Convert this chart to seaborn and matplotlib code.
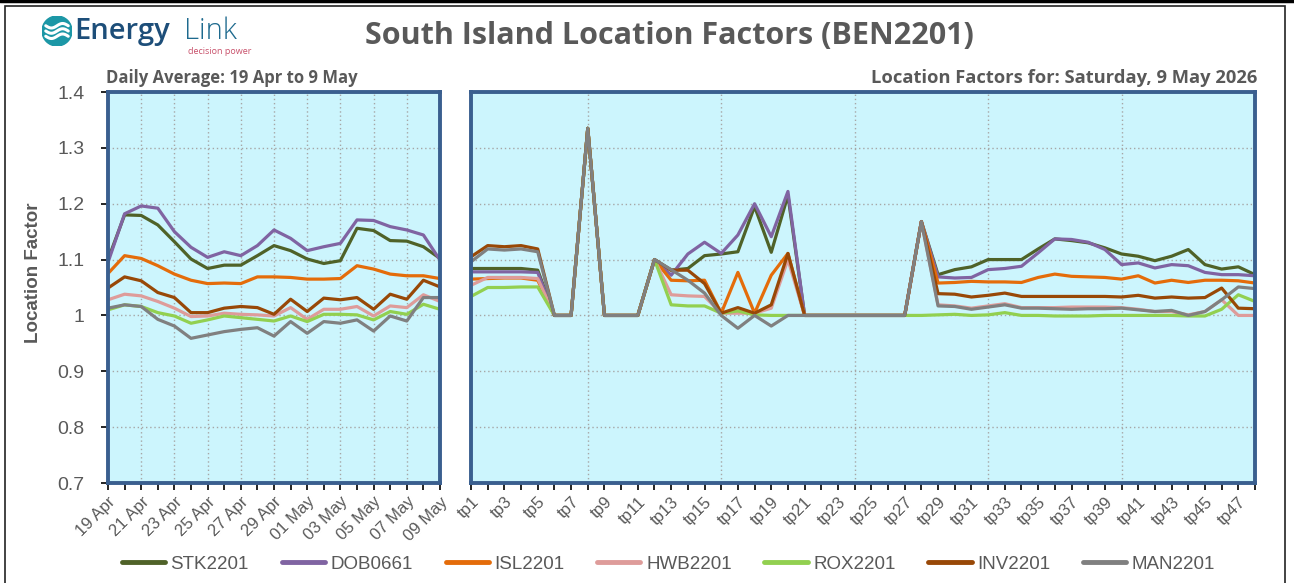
import numpy as np
import pandas as pd
import matplotlib
matplotlib.use("Agg")
import matplotlib.pyplot as plt
import seaborn as sns
from matplotlib.lines import Line2D
from matplotlib.patches import Circle, Rectangle

GREY = "#595959"
NODES = ["STK2201", "DOB0661", "ISL2201", "HWB2201", "ROX2201", "INV2201", "MAN2201"]
COLORS = {
    "STK2201": "#4F6228",
    "DOB0661": "#8064A2",
    "ISL2201": "#E46C0A",
    "HWB2201": "#DE9C9A",
    "ROX2201": "#92D050",
    "INV2201": "#984807",
    "MAN2201": "#808080",
}

DAYS = ["19 Apr", "20 Apr", "21 Apr", "22 Apr", "23 Apr", "24 Apr", "25 Apr",
        "26 Apr", "27 Apr", "28 Apr", "29 Apr", "30 Apr", "01 May", "02 May",
        "03 May", "04 May", "05 May", "06 May", "07 May", "08 May", "09 May"]
TPS = [f"tp{i}" for i in range(1, 49)]

# daily averages, 19 Apr .. 9 May
daily_stk = [1.100, 1.180, 1.179, 1.162, 1.132, 1.101, 1.084, 1.090, 1.090, 1.107, 1.125,
             1.116, 1.101, 1.093, 1.098, 1.156, 1.152, 1.134, 1.133, 1.123, 1.102]
daily_dob = [1.095, 1.182, 1.196, 1.192, 1.150, 1.122, 1.104, 1.114, 1.107, 1.125, 1.153,
             1.138, 1.116, 1.123, 1.129, 1.171, 1.170, 1.159, 1.153, 1.144, 1.099]
daily_isl = [1.075, 1.107, 1.102, 1.089, 1.074, 1.063, 1.057, 1.058, 1.057, 1.069, 1.069,
             1.068, 1.065, 1.065, 1.066, 1.089, 1.083, 1.074, 1.071, 1.071, 1.066]
daily_hwb = [1.028, 1.038, 1.035, 1.025, 1.013, 0.998, 0.999, 1.004, 1.002, 1.001, 0.999,
             1.014, 0.993, 1.011, 1.011, 1.016, 0.999, 1.017, 1.014, 1.037, 1.025]
daily_rox = [1.010, 1.019, 1.016, 1.005, 0.999, 0.986, 0.992, 0.999, 0.996, 0.993, 0.990,
             0.999, 0.989, 1.002, 1.002, 1.001, 0.992, 1.007, 1.002, 1.020, 1.011]
daily_inv = [1.049, 1.069, 1.062, 1.041, 1.032, 1.005, 1.005, 1.013, 1.016, 1.014, 1.002,
             1.029, 1.007, 1.031, 1.028, 1.032, 1.011, 1.038, 1.029, 1.063, 1.051]
daily_man = [1.013, 1.019, 1.016, 0.993, 0.981, 0.959, 0.965, 0.971, 0.975, 0.978, 0.963,
             0.989, 0.968, 0.989, 0.986, 0.992, 0.972, 0.999, 0.990, 1.032, 1.032]

# trading periods, Saturday 9 May
tp_stk = [1.084, 1.084, 1.084, 1.084, 1.081, 1.0, 1.0, 1.335, 1.0, 1.0, 1.0,
          1.100, 1.081, 1.084, 1.107, 1.110, 1.114, 1.195, 1.113, 1.215,
          1.0, 1.0, 1.0, 1.0, 1.0, 1.0, 1.0,
          1.168, 1.073, 1.082, 1.087, 1.100, 1.100, 1.100, 1.119, 1.137, 1.134, 1.130,
          1.121, 1.110, 1.106, 1.098, 1.106, 1.118, 1.091, 1.083, 1.087, 1.073]
tp_dob = [1.078, 1.078, 1.078, 1.078, 1.077, 1.0, 1.0, 1.335, 1.0, 1.0, 1.0,
          1.100, 1.072, 1.110, 1.131, 1.111, 1.144, 1.200, 1.141, 1.222,
          1.0, 1.0, 1.0, 1.0, 1.0, 1.0, 1.0,
          1.168, 1.069, 1.067, 1.068, 1.082, 1.084, 1.088, 1.112, 1.137, 1.136, 1.131,
          1.118, 1.091, 1.094, 1.085, 1.091, 1.089, 1.077, 1.073, 1.073, 1.071]
tp_isl = [1.065, 1.066, 1.067, 1.067, 1.063, 1.0, 1.0, 1.335, 1.0, 1.0, 1.0,
          1.100, 1.063, 1.062, 1.063, 1.004, 1.077, 1.004, 1.072, 1.111,
          1.0, 1.0, 1.0, 1.0, 1.0, 1.0, 1.0,
          1.168, 1.058, 1.059, 1.061, 1.060, 1.060, 1.059, 1.068, 1.074, 1.070, 1.069,
          1.068, 1.065, 1.071, 1.058, 1.063, 1.059, 1.063, 1.063, 1.062, 1.058]
tp_hwb = [1.054, 1.068, 1.068, 1.068, 1.066, 1.0, 1.0, 1.335, 1.0, 1.0, 1.0,
          1.100, 1.037, 1.035, 1.034, 1.004, 1.004, 1.004, 1.013, 1.100,
          1.0, 1.0, 1.0, 1.0, 1.0, 1.0, 1.0,
          1.168, 1.019, 1.017, 1.013, 1.017, 1.021, 1.014, 1.014, 1.014, 1.015, 1.015,
          1.015, 1.014, 1.011, 1.007, 1.007, 1.001, 1.007, 1.028, 1.0, 1.0]
tp_rox = [1.034, 1.050, 1.050, 1.051, 1.051, 1.0, 1.0, 1.335, 1.0, 1.0, 1.0,
          1.100, 1.019, 1.017, 1.017, 1.004, 1.008, 1.001, 1.0, 1.0,
          1.0, 1.0, 1.0, 1.0, 1.0, 1.0, 1.0,
          1.0, 1.001, 1.002, 1.0, 1.001, 1.005, 1.0, 1.0, 0.999, 0.999, 0.999,
          1.0, 1.0, 1.0, 1.0, 1.0, 0.999, 0.999, 1.011, 1.037, 1.025]
tp_inv = [1.105, 1.125, 1.123, 1.125, 1.119, 1.0, 1.0, 1.335, 1.0, 1.0, 1.0,
          1.100, 1.081, 1.081, 1.057, 1.004, 1.014, 1.004, 1.019, 1.111,
          1.0, 1.0, 1.0, 1.0, 1.0, 1.0, 1.0,
          1.168, 1.039, 1.038, 1.033, 1.036, 1.040, 1.034, 1.034, 1.034, 1.034, 1.034,
          1.034, 1.033, 1.036, 1.031, 1.033, 1.031, 1.032, 1.049, 1.013, 1.012]
tp_man = [1.096, 1.119, 1.117, 1.119, 1.114, 1.0, 1.0, 1.335, 1.0, 1.0, 1.0,
          1.100, 1.082, 1.063, 1.040, 1.0, 0.977, 1.0, 0.981, 1.0,
          1.0, 1.0, 1.0, 1.0, 1.0, 1.0, 1.0,
          1.168, 1.017, 1.016, 1.011, 1.015, 1.019, 1.013, 1.013, 1.012, 1.011, 1.012,
          1.012, 1.013, 1.010, 1.007, 1.009, 1.0, 1.007, 1.028, 1.051, 1.048]

daily = dict(zip(NODES, [daily_stk, daily_dob, daily_isl, daily_hwb, daily_rox, daily_inv, daily_man]))
periods = dict(zip(NODES, [tp_stk, tp_dob, tp_isl, tp_hwb, tp_rox, tp_inv, tp_man]))


def to_long(series, labels):
    rows = []
    for node, vals in series.items():
        for i, v in enumerate(vals):
            rows.append({"pos": i, "label": labels[i], "node": node, "value": v})
    return pd.DataFrame(rows)


sns.set_theme(style="white")
plt.rcParams["font.family"] = ["Liberation Sans", "DejaVu Sans"]

W, H = 1294, 583
fig = plt.figure(figsize=(W / 100, H / 100), dpi=100)


def box(x0, y0, x1, y1):
    return [x0 / W, 1 - y1 / H, (x1 - x0) / W, (y1 - y0) / H]


def style_panel(ax, labels, grid_start, grid_every):
    n = len(labels)
    ax.set_facecolor("#CCF5FD")
    ax.set_xlim(0, n - 1)
    ax.set_ylim(0.7, 1.4)
    ax.set_xticks(range(n))
    ax.set_xticklabels([lab if i % 2 == 0 else "" for i, lab in enumerate(labels)],
                       rotation=45, ha="right", va="top", rotation_mode="anchor",
                       fontsize=12, color=GREY)
    for x in range(grid_start, n, grid_every):
        ax.axvline(x, color="#A6A6A6", ls=(0, (1, 2)), lw=1, zorder=0.5)
    for y in np.arange(0.8, 1.39, 0.1):
        ax.axhline(y, color="#A6A6A6", ls=(0, (1, 2)), lw=1, zorder=0.5)
    for s in ax.spines.values():
        s.set_visible(True)
        s.set_color("#3A5F8F")
        s.set_linewidth(2.8)
        s.set_zorder(5)
    ax.tick_params(axis="x", direction="out", length=5, width=1.2, color="black",
                   pad=3, bottom=True)
    ax.set_xlabel("")
    ax.set_ylabel("")


ax1 = fig.add_axes(box(108, 92, 440, 483))
ax2 = fig.add_axes(box(471, 92, 1255, 483))

sns.lineplot(data=to_long(daily, DAYS), x="pos", y="value", hue="node",
             hue_order=NODES, palette=COLORS, linewidth=2.3, legend=False, ax=ax1)
sns.lineplot(data=to_long(periods, TPS), x="pos", y="value", hue="node",
             hue_order=NODES, palette=COLORS, linewidth=2.3, legend=False, ax=ax2)

style_panel(ax1, DAYS, 2, 2)
style_panel(ax2, TPS, 7, 8)

yt = np.round(np.arange(0.7, 1.41, 0.1), 1)
ax1.set_yticks(yt)
ax1.set_yticklabels([f"{v:g}" for v in yt], fontsize=14, color=GREY)
ax1.tick_params(axis="y", direction="out", length=5, width=1.2, color="black",
                pad=12, left=True)
ax2.set_yticks(yt)
ax2.tick_params(axis="y", left=False, labelleft=False)

# titles
fig.text(669 / W, 1 - 44 / H, "South Island Location Factors (BEN2201)",
         ha="center", va="baseline", fontsize=22, fontweight="bold",
         color=GREY, family=["Open Sans", "DejaVu Sans"])
fig.text(106 / W, 1 - 83 / H, "Daily Average: 19 Apr to 9 May", ha="left",
         va="baseline", fontsize=12, fontweight="bold", color=GREY,
         family=["Open Sans", "DejaVu Sans"])
fig.text(1257 / W, 1 - 83 / H, "Location Factors for: Saturday, 9 May 2026",
         ha="right", va="baseline", fontsize=13.2, fontweight="bold", color=GREY,
         family=["Open Sans", "DejaVu Sans"])
fig.text(33 / W, 1 - 273 / H, "Location Factor", rotation=90, ha="center",
         va="center", fontsize=13.5, fontweight="bold", color=GREY)

# logo
lax = fig.add_axes(box(42, 16, 72, 46))
lax.set_xlim(-1, 1)
lax.set_ylim(-1, 1)
lax.set_aspect("equal")
lax.axis("off")
lax.add_patch(Circle((0, 0), 1, color="#1C97A6"))
t = np.linspace(-0.75, 0.75, 50)
for off in (-0.35, 0.0, 0.35):
    lax.plot(t, off + 0.15 * np.sin(t * 4.2), color="white", lw=2.2,
             solid_capstyle="round")
fig.text(74 / W, 1 - 39 / H, "Energy", ha="left", va="baseline", fontsize=21,
         color="#1D4E79", fontweight="semibold", family=["Open Sans", "DejaVu Sans"])
fig.text(184 / W, 1 - 39 / H, "Link", ha="left", va="baseline", fontsize=21,
         color="#1E6A8E", fontweight="light", family=["Open Sans", "DejaVu Sans"])
fig.text(188 / W, 1 - 54 / H, "decision power", ha="left", va="baseline",
         fontsize=6.5, color="#C8506A", family=["Open Sans", "DejaVu Sans"])

# legend
handles = [Line2D([0], [0], color=COLORS[n], lw=3.5, solid_capstyle="round")
           for n in NODES]
fig.legend(handles, NODES, loc="center", bbox_to_anchor=(668.5 / W, 1 - 564 / H),
           ncol=7, frameon=False, fontsize=13.5, handlelength=2.3,
           handletextpad=0.3, columnspacing=1.75, labelcolor=GREY)

# frame
fig.add_artist(Line2D([0, 1], [1 - 1.3 / H, 1 - 1.3 / H], color="black", lw=2.5,
                      transform=fig.transFigure))
fig.add_artist(Rectangle((5 / W, -0.01), 1280 / W, 1 - 5.5 / H + 0.01,
                         transform=fig.transFigure, fill=False,
                         edgecolor="#222222", lw=1.2))

fig.savefig("out.png", dpi=100)
